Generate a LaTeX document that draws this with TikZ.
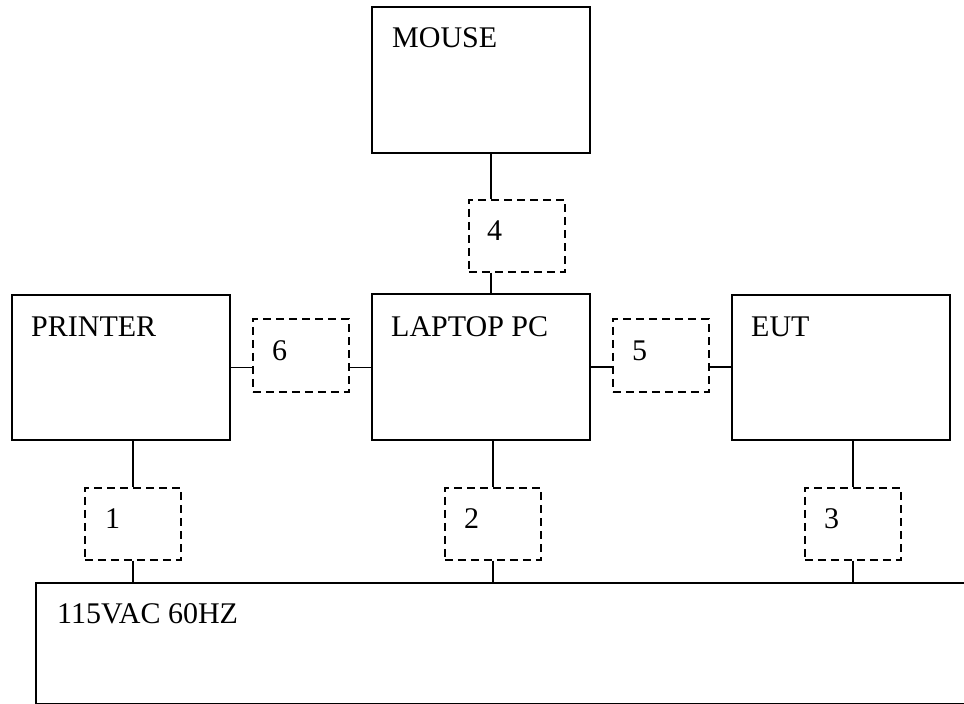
\documentclass[tikz,border=0pt]{standalone}
\usepackage{fontspec}
\setmainfont{Liberation Serif}
\begin{document}
\begin{tikzpicture}[x=1pt,y=-1pt,
  box/.style={draw, line width=1.6pt, rectangle, inner sep=0pt, anchor=north west},
  dbox/.style={draw, line width=1.6pt, rectangle, inner sep=0pt, anchor=north west,
    dash pattern=on 8pt off 5pt, minimum width=96pt, minimum height=72pt},
  lbl/.style={anchor=base west, inner sep=0pt, font=\fontsize{30}{36}\selectfont},
  wire/.style={line width=1.6pt}]
\useasboundingbox (0,0) rectangle (964,704);
% main boxes
\node[box, minimum width=218pt, minimum height=146pt] (mouse) at (371,6) {};
\node[box, minimum width=218pt, minimum height=146pt] (laptop) at (371,293) {};
\node[box, minimum width=218pt, minimum height=145pt] (printer) at (11,294) {};
\node[box, minimum width=218pt, minimum height=145pt] (eut) at (731,294) {};
\node[box, minimum width=950pt, minimum height=121pt] (mains) at (35,582) {};
% dashed boxes
\node[dbox] (d4) at (468,199) {};
\node[dbox, minimum height=73pt] (d6) at (252,318) {};
\node[dbox, minimum height=73pt] (d5) at (612,318) {};
\node[dbox] (d1) at (84,487) {};
\node[dbox] (d2) at (444,487) {};
\node[dbox] (d3) at (804,487) {};
% labels
\node[lbl] (tmouse) at ([shift={(21,41)}]mouse.north west) {MOUSE};
\node[lbl] (tlaptop) at ([shift={(20,43)}]laptop.north west) {LAPTOP PC};
\node[lbl] (tprinter) at ([shift={(20,42)}]printer.north west) {PRINTER};
\node[lbl] (teut) at ([shift={(20,42)}]eut.north west) {EUT};
\node[lbl] (tmains) at ([shift={(22,41)}]mains.north west) {115VAC 60HZ};
\node[lbl] (t4) at ([shift={(19,41)}]d4.north west) {4};
\node[lbl] (t6) at ([shift={(20,42)}]d6.north west) {6};
\node[lbl] (t5) at ([shift={(20,42)}]d5.north west) {5};
\node[lbl] (t1) at ([shift={(21,41)}]d1.north west) {1};
\node[lbl] (t2) at ([shift={(20,41)}]d2.north west) {2};
\node[lbl] (t3) at ([shift={(20,41)}]d3.north west) {3};
% connectors
\coordinate (m4) at ([xshift=120pt]mouse.south west);
\draw[wire] (m4) -- (m4 |- d4.north);
\draw[wire] (m4 |- d4.south) -- (m4 |- laptop.north);
\draw[wire] (printer.east) -- (printer.east -| d6.west);
\draw[wire] (laptop.west |- printer.east) -- (printer.east -| d6.east);
\draw[wire] (laptop.east) -- (laptop.east -| d5.west);
\draw[wire] (eut.west |- laptop.east) -- (laptop.east -| d5.east);
\draw[wire] (d1.north |- printer.south) -- (d1.north);
\draw[wire] (d1.south) -- (d1.south |- mains.north);
\draw[wire] (d2.north |- laptop.south) -- (d2.north);
\draw[wire] (d2.south) -- (d2.south |- mains.north);
\draw[wire] (d3.north |- eut.south) -- (d3.north);
\draw[wire] (d3.south) -- (d3.south |- mains.north);
\end{tikzpicture}
\end{document}
